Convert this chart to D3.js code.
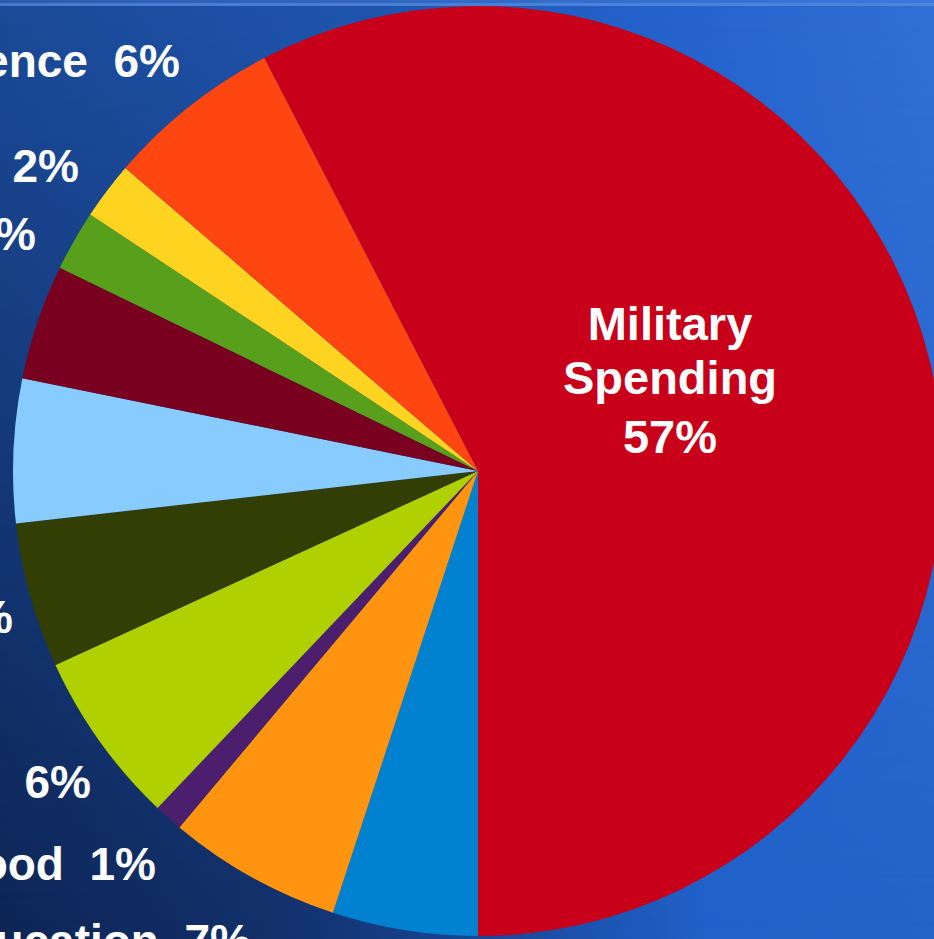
<!DOCTYPE html>
<html>
<head>
<meta charset="utf-8">
<script src="https://cdn.jsdelivr.net/npm/d3@7"></script>
<style>
  html, body { margin: 0; padding: 0; background: #163a7a; }
  svg { display: block; }
  text { font-family: "Liberation Sans", Arial, sans-serif; font-weight: bold; fill: #ffffff; white-space: pre; }
</style>
</head>
<body>
<svg id="chart" width="934" height="939"></svg>
<script>
// ---- data (clockwise from the Military slice) ----
const categories = ["Military Spending", "International Affairs", "Education", "Food", "Housing", "Health", "Veterans' Benefits", "Government", "Transportation", "Energy", "Science"];
const values     = [57.6, 5.05, 6.05, 1.0, 6.05, 5.05, 5.0, 4.0, 2.1, 2.0, 6.1];
const colors     = ["#c8001a", "#0082d0", "#ff9410", "#4b1f6e", "#b0d000", "#333e05", "#88ccff", "#7a0020", "#58a01c", "#ffd420", "#ff4610"];
const labelText  = ["57%", "5%", "7%", "1%", "6%", "5%", "5%", "4%", "2%", "2%", "6%"];

const W = 934, H = 939;
const svg = d3.select("#chart");

// background: top-row and bottom-row horizontal gradients blended vertically
const defs = svg.append("defs");
function hGrad(id, stops) {
  const lg = defs.append("linearGradient").attr("id", id)
    .attr("x1", "0").attr("y1", "0").attr("x2", "1").attr("y2", "0");
  stops.forEach(([o, c]) => lg.append("stop").attr("offset", o).attr("stop-color", c));
}
hGrad("bgTop", [["0%", "#1b4a98"], ["40%", "#1f55b0"], ["70%", "#2462cc"], ["100%", "#3070d6"]]);
hGrad("bgBot", [["0%", "#0d2554"], ["30%", "#12306a"], ["55%", "#1a4a9e"], ["75%", "#2060c8"], ["100%", "#2363ca"]]);
const vm = defs.append("linearGradient").attr("id", "vmask")
  .attr("x1", "0").attr("y1", "0").attr("x2", "0").attr("y2", "1");
vm.append("stop").attr("offset", "0%").attr("stop-color", "#000");
vm.append("stop").attr("offset", "100%").attr("stop-color", "#fff");
defs.append("mask").attr("id", "m").append("rect")
  .attr("width", W).attr("height", H).attr("fill", "url(#vmask)");
svg.append("rect").attr("width", W).attr("height", H).attr("fill", "url(#bgTop)");
svg.append("rect").attr("width", W).attr("height", H).attr("fill", "url(#bgBot)").attr("mask", "url(#m)");

hGrad("tb", [["0%", "#2a5cb0"], ["100%", "#3a78dc"]]);
svg.append("rect").attr("y", 0).attr("width", W).attr("height", 3).attr("fill", "url(#tb)");
svg.append("rect").attr("y", 3).attr("width", W).attr("height", 3).attr("fill", "#5d90e0").attr("opacity", 0.7);

// pie
const cx = 478, cy = 471, R = 465;
const total = d3.sum(values);
const start = Math.PI - (values[0] / total) * 2 * Math.PI;   // Military ends at 6 o'clock
const pie = d3.pie().sort(null).value(d => d.v)
  .startAngle(start).endAngle(start + 2 * Math.PI);
const data = categories.map((c, i) => ({ name: c, v: values[i], color: colors[i], label: labelText[i] }));
const arcs = pie(data);
const arc = d3.arc().innerRadius(0).outerRadius(R);

const g = svg.append("g").attr("transform", `translate(${cx},${cy})`);
g.selectAll("path").data(arcs).join("path")
  .attr("d", arc)
  .attr("fill", d => d.data.color);

// Military label inside its slice
const mil = svg.append("text").attr("text-anchor", "middle").style("font-size", "47px");
[["Military", 340], ["Spending", 394], [data[0].label, 453]].forEach(([t, y]) => {
  mil.append("tspan").attr("x", 670).attr("y", y).text(t);
});

// outside labels (cropped on the left edge, as in the original)
const labelPos = {
  "Science":        { x: 180, y: 77 },
  "Energy":         { x: 79,  y: 182 },
  "Transportation": { x: 36,  y: 250 },
  "Health":         { x: 13,  y: 633 },
  "Housing":        { x: 91,  y: 798 },
  "Food":           { x: 156, y: 880 },
  "Education":      { x: 251, y: 957 }
};
svg.selectAll("text.lbl").data(data.filter(d => labelPos[d.name])).join("text")
  .attr("class", "lbl")
  .attr("text-anchor", "end")
  .style("font-size", "46px")
  .attr("x", d => labelPos[d.name].x)
  .attr("y", d => labelPos[d.name].y)
  .text(d => `${d.name}  ${d.label}`);
</script>
</body>
</html>
